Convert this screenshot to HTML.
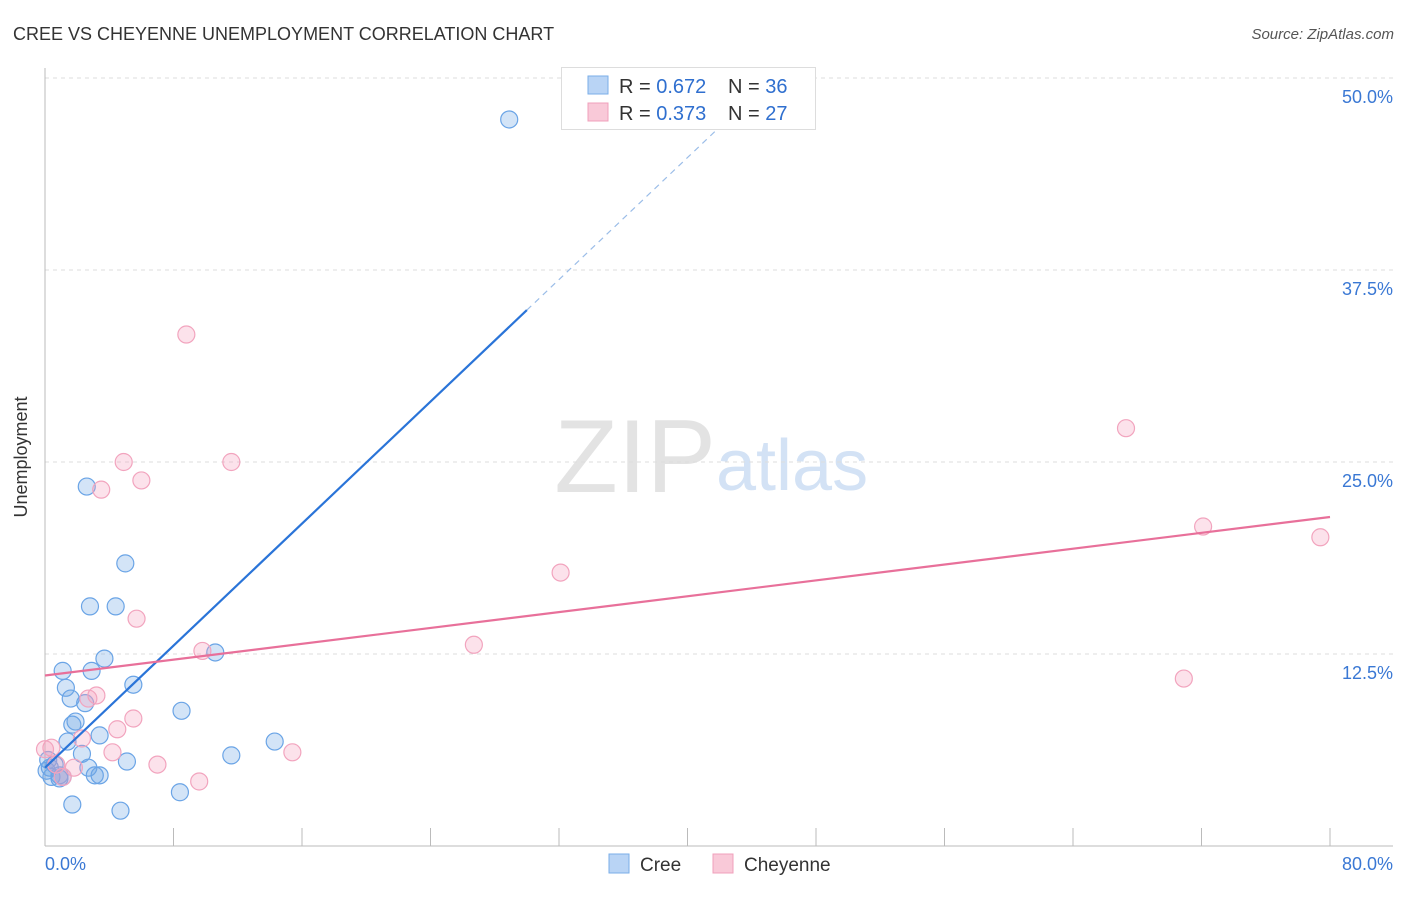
<!DOCTYPE html>
<html><head><meta charset="utf-8"><style>
body{margin:0;background:#fff;font-family:"Liberation Sans",sans-serif;}
svg text{font-family:"Liberation Sans",sans-serif;}
</style></head><body>
<svg id="chart" width="1406" height="892" xmlns="http://www.w3.org/2000/svg">
<text x="13" y="40" font-size="18" fill="#333">CREE VS CHEYENNE UNEMPLOYMENT CORRELATION CHART</text>
<text x="1394" y="39" font-size="15" fill="#555" font-style="italic" text-anchor="end">Source: ZipAtlas.com</text>
<text x="716" y="492" font-size="104" fill="#e3e3e3" text-anchor="end" font-family="Liberation Serif">ZIP</text>
<text x="716" y="490" font-size="72" fill="#d3e2f5">atlas</text>
<g id="grid"></g>
<g id="axes"></g>
<g id="marks"></g>
<text x="27" y="457" font-size="18" fill="#333" text-anchor="middle" transform="rotate(-90 27 457)">Unemployment</text>
<g>
<rect x="561.5" y="67.5" width="254" height="62" fill="#fff" stroke="#ddd"/>
<rect x="588" y="76" width="20" height="18" fill="#b9d4f5" stroke="#7aaee8"/>
<rect x="588" y="103" width="20" height="18" fill="#f9c9d8" stroke="#f0a0bb"/>
<text x="619" y="93" font-size="20" fill="#333">R = <tspan fill="#2f6fcf">0.672</tspan></text>
<text x="728" y="93" font-size="20" fill="#333">N = <tspan fill="#2f6fcf">36</tspan></text>
<text x="619" y="120" font-size="20" fill="#333">R = <tspan fill="#2f6fcf">0.373</tspan></text>
<text x="728" y="120" font-size="20" fill="#333">N = <tspan fill="#2f6fcf">27</tspan></text>
</g>
<g>
<rect x="609" y="854" width="20" height="19" fill="#b9d4f5" stroke="#7aaee8"/>
<text x="640" y="871" font-size="19" fill="#333">Cree</text>
<rect x="713" y="854" width="20" height="19" fill="#f9c9d8" stroke="#f0a0bb"/>
<text x="744" y="871" font-size="19" fill="#333">Cheyenne</text>
</g>
</svg>
<script>
const creeX=[28.9,2.6,5.0,2.8,4.4,3.7,10.6,1.1,2.9,5.5,1.3,1.6,2.5,8.5,1.9,1.7,3.4,1.4,2.3,11.6,14.3,5.1,0.3,0.6,2.7,3.1,3.4,0.9,0.4,0.9,8.4,1.7,4.7,0.2,1.1,0.1];
const creeY=[47.3,23.4,18.4,15.6,15.6,12.2,12.6,11.4,11.4,10.5,10.3,9.6,9.3,8.8,8.1,7.9,7.2,6.8,6.0,5.9,6.8,5.5,5.1,5.3,5.1,4.6,4.6,4.6,4.5,4.4,3.5,2.7,2.3,5.6,4.5,4.9];
const cheyX=[8.8,4.9,11.6,6.0,3.5,67.3,72.1,79.4,32.1,5.7,26.7,9.8,70.9,3.2,2.7,5.5,4.5,2.3,4.2,15.4,7.0,9.6,1.8,1.1,0.4,0.0,0.7];
const cheyY=[33.3,25.0,25.0,23.8,23.2,27.2,20.8,20.1,17.8,14.8,13.1,12.7,10.9,9.8,9.6,8.3,7.6,7.0,6.1,6.1,5.3,4.2,5.1,4.5,6.4,6.3,5.3];
const creeTrend=[5.1,0.993];
const cheyTrend=[11.1,0.129];
const yTicks=[12.5,25.0,37.5,50.0];
const xTicks=[0,8,16,24,32,40,48,56,64,72,80];
const NS="http://www.w3.org/2000/svg";
const sx=v=>45+v/80*1285, sy=v=>846-v/50*768;
function mk(tag,attrs,parent){const e=document.createElementNS(NS,tag);for(const k in attrs)e.setAttribute(k,attrs[k]);parent.appendChild(e);return e;}
const grid=document.getElementById('grid'),axes=document.getElementById('axes'),marks=document.getElementById('marks');
yTicks.forEach(t=>{
 const l=mk('line',{x1:45,x2:1393,y1:sy(t),y2:sy(t),stroke:'#ddd','stroke-dasharray':'4,4'},grid);
 
 
 const tx=mk('text',{x:1393,y:sy(t)+25,'font-size':18,fill:'#3a78d4','text-anchor':'end'},grid);
 tx.textContent=t.toFixed(1)+'%';
 
 
});
mk('line',{x1:45,x2:45,y1:68,y2:846,stroke:'#bbb'},axes);
mk('line',{x1:45,x2:1393,y1:846,y2:846,stroke:'#bbb'},axes);
xTicks.forEach(t=>{
 const l=mk('line',{x1:sx(t),x2:sx(t),y1:828,y2:846,stroke:'#bbb'},axes);
 
 
});
const xl0=mk('text',{x:45,y:870,'font-size':18,fill:'#3a78d4'},axes);xl0.textContent=xTicks[0].toFixed(1)+'%';


const xl1=mk('text',{x:1393,y:870,'font-size':18,fill:'#3a78d4','text-anchor':'end'},axes);xl1.textContent=xTicks[xTicks.length-1].toFixed(1)+'%';


creeX.forEach((x,i)=>{const c=mk('circle',{cx:sx(x),cy:sy(creeY[i]),r:8.5,fill:'rgba(110,165,230,0.3)',stroke:'#6aa4e6','stroke-width':1.2},marks);
 
 });
cheyX.forEach((x,i)=>{const c=mk('circle',{cx:sx(x),cy:sy(cheyY[i]),r:8.5,fill:'rgba(245,160,190,0.3)',stroke:'#f2a4be','stroke-width':1.2},marks);
 
 });
const cx1=30,cx2=(48-creeTrend[0])/creeTrend[1];
const tl=mk('line',{x1:sx(0),y1:sy(creeTrend[0]),x2:sx(cx1),y2:sy(creeTrend[0]+creeTrend[1]*cx1),stroke:'#2a74d8','stroke-width':2.2},marks);


const td=mk('line',{x1:sx(cx1),y1:sy(creeTrend[0]+creeTrend[1]*cx1),x2:sx(cx2),y2:sy(48),stroke:'#9bbde8','stroke-width':1.2,'stroke-dasharray':'6,5'},marks);


const pl=mk('line',{x1:sx(0),y1:sy(cheyTrend[0]),x2:sx(80),y2:sy(cheyTrend[0]+cheyTrend[1]*80),stroke:'#e8709a','stroke-width':2.2},marks);


</script>
</body></html>
